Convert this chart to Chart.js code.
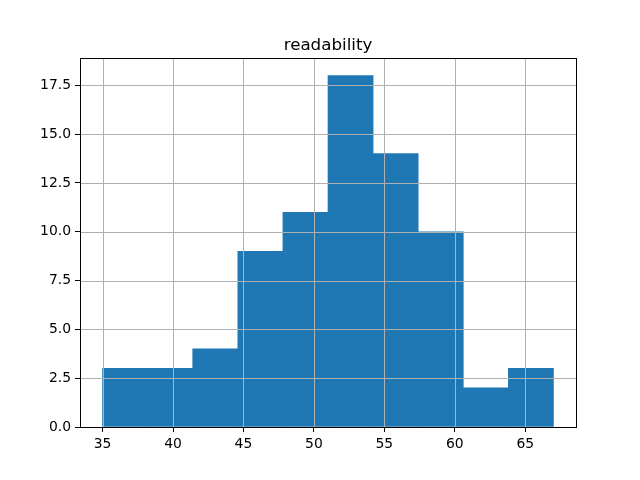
<!DOCTYPE html>
<html>
<head>
<meta charset="utf-8">
<script src="https://cdn.jsdelivr.net/npm/chart.js@4"></script>
<style>
  html, body { margin: 0; padding: 0; background: #fff; }
  #wrap { width: 640px; height: 480px; }
</style>
</head>
<body>
<div id="wrap"><canvas id="histChart" width="640" height="480"></canvas></div>
<script>
// histogram of readability, 10 bins
const binEdges = [35, 38.2, 41.4, 44.6, 47.8, 51, 54.2, 57.4, 60.6, 63.8, 67];
const counts = [3, 3, 4, 9, 11, 18, 14, 10, 2, 3];
const xTicks = [35, 40, 45, 50, 55, 60, 65];
const yTicks = [0, 2.5, 5, 7.5, 10, 12.5, 15, 17.5];
const titleText = "readability";

const FONT = "'DejaVu Sans', sans-serif";

const points = counts.map((c, i) => ({ x: (binEdges[i] + binEdges[i + 1]) / 2, y: c }));

// grid goes over the bars like matplotlib, then the four spines and the title
const overlay = {
  id: "overlay",
  afterDatasetsDraw(chart) {
    const { ctx, chartArea: a, scales } = chart;
    ctx.save();
    ctx.strokeStyle = "#b0b0b0";
    ctx.lineWidth = 1;
    xTicks.forEach(v => {
      const px = Math.round(scales.x.getPixelForValue(v)) + 0.5;
      ctx.beginPath(); ctx.moveTo(px, a.top); ctx.lineTo(px, a.bottom); ctx.stroke();
    });
    yTicks.forEach(v => {
      const py = Math.round(scales.y.getPixelForValue(v)) + 0.5;
      ctx.beginPath(); ctx.moveTo(a.left, py); ctx.lineTo(a.right, py); ctx.stroke();
    });
    ctx.strokeStyle = "#000";
    ctx.strokeRect(Math.round(a.left) + 0.5, Math.round(a.top) + 0.5,
      Math.round(a.right - a.left), Math.round(a.bottom - a.top));
    ctx.fillStyle = "#000";
    ctx.font = "16.7px " + FONT;
    ctx.textAlign = "center";
    ctx.textBaseline = "alphabetic";
    ctx.fillText(titleText, (a.left + a.right) / 2, a.top - 8);
    ctx.restore();
  }
};

new Chart(document.getElementById("histChart").getContext("2d"), {
  type: "bar",
  data: {
    datasets: [{
      label: titleText,
      data: points,
      backgroundColor: "#1f77b4",
      borderWidth: 0,
      barPercentage: 1,
      categoryPercentage: 1
    }]
  },
  options: {
    responsive: false,
    animation: false,
    layout: { padding: { left: 0, right: 64, top: 58, bottom: 0 } },
    plugins: {
      legend: { display: false },
      tooltip: { enabled: false },
      title: { display: false }
    },
    scales: {
      x: {
        type: "linear",
        min: 33.4,
        max: 68.6,
        offset: false,
        afterBuildTicks: s => { s.ticks = xTicks.map(v => ({ value: v })); },
        afterFit: s => { s.height = 53; },
        grid: { drawOnChartArea: false, drawTicks: true, tickLength: 5, tickColor: "#000", offset: false },
        border: { display: false },
        ticks: { color: "#000", font: { family: FONT, size: 13.9 }, padding: 4, maxRotation: 0 }
      },
      y: {
        min: 0,
        max: 18.9,
        afterBuildTicks: s => { s.ticks = yTicks.map(v => ({ value: v })); },
        afterFit: s => { s.width = 80; },
        grid: { drawOnChartArea: false, drawTicks: true, tickLength: 5, tickColor: "#000" },
        border: { display: false },
        ticks: {
          color: "#000",
          font: { family: FONT, size: 13.9 },
          padding: 4,
          callback: v => v.toFixed(1)
        }
      }
    }
  },
  plugins: [overlay]
});
</script>
</body>
</html>
